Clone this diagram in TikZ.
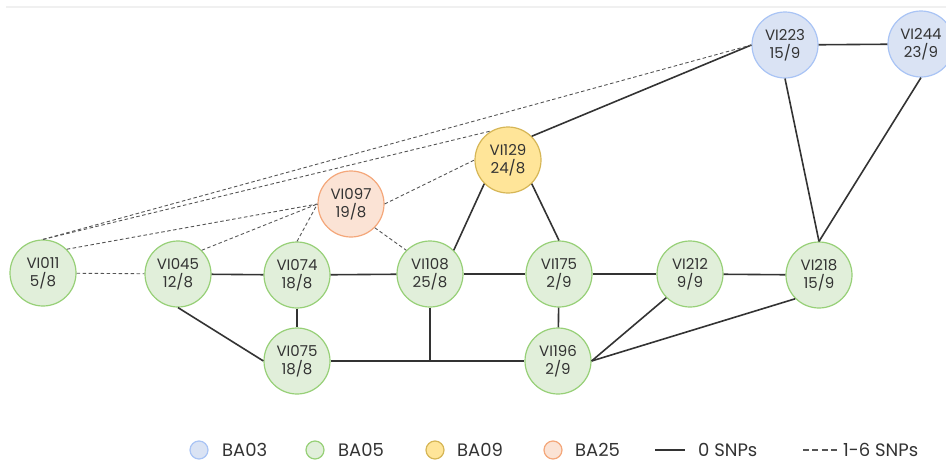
\documentclass[tikz,border=0pt]{standalone}
\usepackage{fontspec}
\setmainfont{Poppins}

\definecolor{txt}{HTML}{333333}
\definecolor{linegray}{HTML}{333333}
\definecolor{dashgray}{HTML}{555555}
\definecolor{bluefill}{HTML}{DAE3F4}
\definecolor{bluedraw}{HTML}{A9C4F5}
\definecolor{greenfill}{HTML}{E1EFDA}
\definecolor{greendraw}{HTML}{97D077}
\definecolor{yellowfill}{HTML}{FFE599}
\definecolor{yellowdraw}{HTML}{D6B656}
\definecolor{peachfill}{HTML}{FBE3D5}
\definecolor{peachdraw}{HTML}{F4A77A}

\begin{document}
\begin{tikzpicture}[x=1pt,y=-1pt,
  every text node part/.style={align=center},
  isolate/.style={circle,line width=1.2pt,minimum size=66pt,inner sep=0pt,text=txt,font=\fontsize{15}{18}\selectfont},
  ba03/.style={isolate,fill=bluefill,draw=bluedraw},
  ba05/.style={isolate,fill=greenfill,draw=greendraw},
  ba09/.style={isolate,fill=yellowfill,draw=yellowdraw},
  ba25/.style={isolate,fill=peachfill,draw=peachdraw},
  zero/.style={draw=linegray,line width=1.6pt},
  few/.style={draw=dashgray,line width=0.9pt,dash pattern=on 3.5pt off 2.5pt},
  key/.style={circle,line width=1.2pt,minimum size=18pt,inner sep=0pt},
  keytext/.style={anchor=west,inner sep=0pt,text=txt,font=\fontsize{18}{20}\selectfont}]

\useasboundingbox (0,0) rectangle (946,461);
\fill[black!6] (6,6) rectangle (946,8);

\node[ba05] (VI011) at (43,273) {VI011\\5/8};
\node[ba05] (VI045) at (178,274) {VI045\\12/8};
\node[ba05] (VI074) at (297,275) {VI074\\18/8};
\node[ba25] (VI097) at (351,204) {VI097\\19/8};
\node[ba05] (VI108) at (430,274) {VI108\\25/8};
\node[ba05] (VI075) at (297,361) {VI075\\18/8};
\node[ba09] (VI129) at (508,160) {VI129\\24/8};
\node[ba05] (VI175) at (559,274) {VI175\\2/9};
\node[ba05] (VI196) at (558,361) {VI196\\2/9};
\node[ba05] (VI212) at (690,274) {VI212\\9/9};
\node[ba05] (VI218) at (819,275) {VI218\\15/9};
\node[ba03] (VI223) at (785,45) {VI223\\15/9};
\node[ba03] (VI244) at (921,44) {VI244\\23/9};

\coordinate (j108) at (VI108 |- VI075);

\draw[zero] (VI045)--(VI074);
\draw[zero] (VI074)--(VI108);
\draw[zero] (VI108)--(VI175);
\draw[zero] (VI175)--(VI212);
\draw[zero] (VI212)--(VI218);
\draw[zero] (VI074)--(VI075);
\draw[zero] (VI045.south)--(VI075.west);
\draw[zero] (VI075)--(VI196);
\draw[zero] (VI108.south)--(j108);
\draw[zero] (VI175)--(VI196);
\draw[zero] (VI212.south west)--(VI196.east);
\draw[zero] (VI218.south west)--(VI196.east);
\draw[zero] (VI108.north east)--(VI129.south west);
\draw[zero] (VI129.south east)--(VI175.north);
\draw[zero] (VI129.north east)--(VI223.west);
\draw[zero] (VI223)--(VI244);
\draw[zero] (VI223.south)--(VI218.north);
\draw[zero] (VI244.south)--(VI218.north);

\draw[few] (VI011)--(VI045);
\draw[few] (VI011.north)--(VI223.west);
\draw[few] (VI011.north)--(VI129.120);
\draw[few] (VI011.north east)--(VI097.west);
\draw[few] (VI045.north east)--(VI097.west);
\draw[few] (VI074.north)--(VI097.west);
\draw[few] (VI097.south east)--(VI108.north west);
\draw[few] (VI097.east)--(VI129.west);

\node[key,fill=bluefill,draw=bluedraw] (k03) at (199,450) {};
\node[keytext] (t03) at (222,450) {BA03};
\node[key,fill=greenfill,draw=greendraw] (k05) at (315,450) {};
\node[keytext] (t05) at (338,450) {BA05};
\node[key,fill=yellowfill,draw=yellowdraw] (k09) at (435,450) {};
\node[keytext] (t09) at (457,450) {BA09};
\node[key,fill=peachfill,draw=peachdraw] (k25) at (553,450) {};
\node[keytext] (t25) at (575,450) {BA25};

\coordinate (s0) at (655,450);
\coordinate (e0) at (685,450);
\draw[linegray,line width=2pt] (s0)--(e0);
\node[keytext] (t0) at (698,450) {0 SNPs};
\coordinate (s1) at (803,450);
\coordinate (e1) at (837,450);
\draw[dashgray,line width=2pt,dash pattern=on 6pt off 3.3pt] (s1)--(e1);
\node[keytext] (t1) at (843,450) {1-6 SNPs};

\end{tikzpicture}
\end{document}
